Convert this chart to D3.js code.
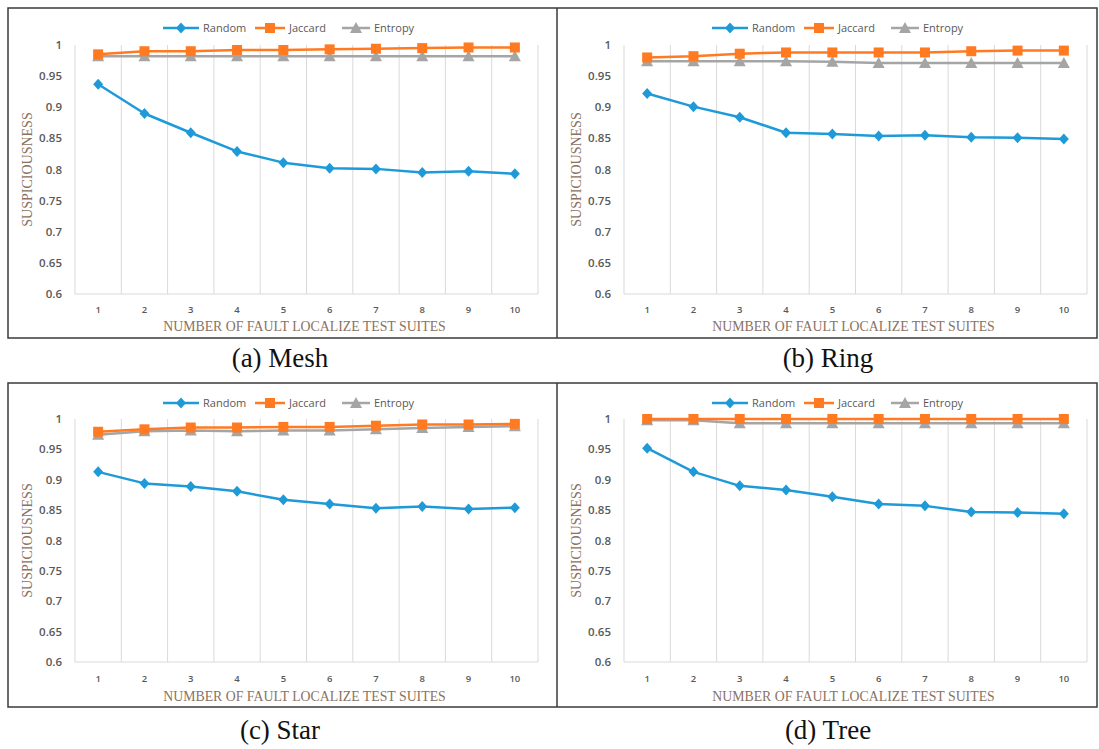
<!DOCTYPE html>
<html><head><meta charset="utf-8">
<script src="https://cdn.jsdelivr.net/npm/d3@7/dist/d3.min.js"></script>
<style>body{margin:0;background:#fff;} svg{display:block;}</style>
</head><body>
<svg id="c" width="1099" height="749"></svg>
<script>
const categories = [1,2,3,4,5,6,7,8,9,10];
const yTicks = [0.6,0.65,0.7,0.75,0.8,0.85,0.9,0.95,1];
const tickLabels = ["0.6","0.65","0.7","0.75","0.8","0.85","0.9","0.95","1"];
const seriesNames = ["Random","Jaccard","Entropy"];
const captions = ["(a) Mesh","(b) Ring","(c) Star","(d) Tree"];

const meshRandom  = [0.937,0.890,0.859,0.829,0.811,0.802,0.801,0.795,0.797,0.793];
const meshJaccard = [0.985,0.990,0.990,0.992,0.992,0.993,0.994,0.995,0.996,0.996];
const meshEntropy = [0.982,0.982,0.982,0.982,0.982,0.982,0.982,0.982,0.982,0.982];

const ringRandom  = [0.922,0.901,0.884,0.859,0.857,0.854,0.855,0.852,0.851,0.849];
const ringJaccard = [0.980,0.982,0.986,0.988,0.988,0.988,0.988,0.990,0.991,0.991];
const ringEntropy = [0.974,0.974,0.974,0.974,0.973,0.971,0.971,0.971,0.971,0.971];

const starRandom  = [0.913,0.894,0.889,0.881,0.867,0.860,0.853,0.856,0.852,0.854];
const starJaccard = [0.979,0.983,0.986,0.986,0.987,0.987,0.989,0.991,0.991,0.992];
const starEntropy = [0.974,0.980,0.981,0.980,0.981,0.981,0.983,0.985,0.987,0.988];

const treeRandom  = [0.952,0.913,0.890,0.883,0.872,0.860,0.857,0.847,0.846,0.844];
const treeJaccard = [1.000,1.000,1.000,1.000,1.000,1.000,1.000,1.000,1.000,1.000];
const treeEntropy = [0.998,0.998,0.993,0.993,0.993,0.993,0.993,0.993,0.993,0.993];

const panelsData = [
  [meshRandom, meshJaccard, meshEntropy],
  [ringRandom, ringJaccard, ringEntropy],
  [starRandom, starJaccard, starEntropy],
  [treeRandom, treeJaccard, treeEntropy]
];

const colors = ["#1f9ad8","#ff7a21","#a5a5a5"];
const svg = d3.select("#c");

// frames
const frames = [{y0:8,y1:338},{y0:383,y1:707}];
frames.forEach(f=>{
  svg.append("rect").attr("x",8).attr("y",f.y0).attr("width",1089).attr("height",f.y1-f.y0)
    .attr("fill","none").attr("stroke","#3a3a3a").attr("stroke-width",1.5);
  svg.append("line").attr("x1",557).attr("x2",557).attr("y1",f.y0).attr("y2",f.y1)
    .attr("stroke","#3a3a3a").attr("stroke-width",1.5);
});

const layouts = [
  {x0:75, x1:538, y0:45, y1:294, leg:28, tick:310, title:326, ytx:27, cap:358, cx:280},
  {x0:624,x1:1087,y0:45, y1:294, leg:28, tick:310, title:326, ytx:576, cap:358, cx:828},
  {x0:75, x1:538, y0:419,y1:662, leg:403,tick:679, title:696, ytx:27, cap:730, cx:280},
  {x0:624,x1:1087,y0:419,y1:662, leg:403,tick:679, title:696, ytx:576, cap:730, cx:828}
];

function marker(g, type, x, y, color){
  if(type===0){
    g.append("path").attr("d",`M${x},${y-5.5}L${x+5},${y}L${x},${y+5.5}L${x-5},${y}Z`).attr("fill",color);
  } else if(type===1){
    g.append("rect").attr("x",x-5).attr("y",y-5).attr("width",10).attr("height",10).attr("fill",color);
  } else {
    g.append("path").attr("d",`M${x},${y-6}L${x+6},${y+5}L${x-6},${y+5}Z`).attr("fill",color);
  }
}

layouts.forEach((L,pi)=>{
  const g = svg.append("g");
  const x = d3.scaleBand().domain(categories).range([L.x0,L.x1]);
  const y = d3.scaleLinear().domain([0.6,1]).range([L.y1,L.y0]);

  const bounds = categories.map(c=>x(c)).concat([L.x1]);
  g.selectAll(".vg").data(bounds).enter().append("line")
    .attr("x1",d=>d).attr("x2",d=>d).attr("y1",L.y0).attr("y2",L.y1)
    .attr("stroke","#d9d9d9").attr("stroke-width",1);
  g.append("line").attr("x1",L.x0).attr("x2",L.x1).attr("y1",L.y1).attr("y2",L.y1)
    .attr("stroke","#d9d9d9").attr("stroke-width",1.2);

  g.selectAll(".yt").data(yTicks).enter().append("text")
    .attr("x",L.x0-13).attr("y",d=>y(d)).attr("dy","0.35em").attr("text-anchor","end")
    .attr("font-family","Open Sans, Liberation Sans, sans-serif").attr("font-size",11.5)
    .attr("font-weight",600).attr("fill","#595959").text((d,i)=>tickLabels[i]);

  g.selectAll(".xt").data(categories).enter().append("text")
    .attr("x",d=>x(d)+x.bandwidth()/2).attr("y",L.tick).attr("dy","0.35em").attr("text-anchor","middle")
    .attr("font-family","Open Sans, Liberation Sans, sans-serif").attr("font-size",9.5)
    .attr("font-weight",600).attr("fill","#595959").text(d=>d);

  g.append("text").attr("x",(L.x0+L.x1)/2 - 2).attr("y",L.title).attr("dy","0.35em")
    .attr("text-anchor","middle").attr("font-family","Liberation Serif, serif").attr("font-size",13.8)
    .attr("fill","#8a7262").text("NUMBER OF FAULT LOCALIZE TEST SUITES");
  g.append("text").attr("transform",`translate(${L.ytx},${(L.y0+L.y1)/2})rotate(-90)`).attr("dy","0.35em")
    .attr("text-anchor","middle").attr("font-family","Liberation Serif, serif").attr("font-size",14)
    .attr("fill","#8a7262").text("SUSPICIOUSNESS");

  svg.append("text").attr("x",L.cx).attr("y",L.cap).attr("dy","0.35em").attr("text-anchor","middle")
    .attr("font-family","Liberation Serif, serif").attr("font-size",27).attr("fill","#111")
    .text(captions[pi]);

  const line = d3.line().x((d,i)=>x(categories[i])+x.bandwidth()/2).y(d=>y(d));
  [2,1,0].forEach(si=>{
    const vals = panelsData[pi][si];
    g.append("path").attr("d",line(vals)).attr("fill","none").attr("stroke",colors[si])
      .attr("stroke-width",2.5).attr("stroke-linejoin","round");
    vals.forEach((v,i)=>marker(g, si, x(categories[i])+x.bandwidth()/2, y(v), colors[si]));
  });

  const off = L.x0 - 75;
  const legItems = [{lx:163, tx:203},{lx:255, tx:289},{lx:342, tx:374}];
  legItems.forEach((it,si)=>{
    const x1 = it.lx+off, x2 = it.tx+off-4;
    g.append("line").attr("x1",x1).attr("x2",x2).attr("y1",L.leg).attr("y2",L.leg)
      .attr("stroke",colors[si]).attr("stroke-width",2.5);
    marker(g, si, (x1+x2)/2, L.leg, colors[si]);
    g.append("text").attr("x",it.tx+off).attr("y",L.leg).attr("dy","0.35em")
      .attr("font-family","Open Sans, Liberation Sans, sans-serif").attr("font-size",11)
      .attr("fill","#595959").text(seriesNames[si]);
  });
});
</script>
</body></html>
